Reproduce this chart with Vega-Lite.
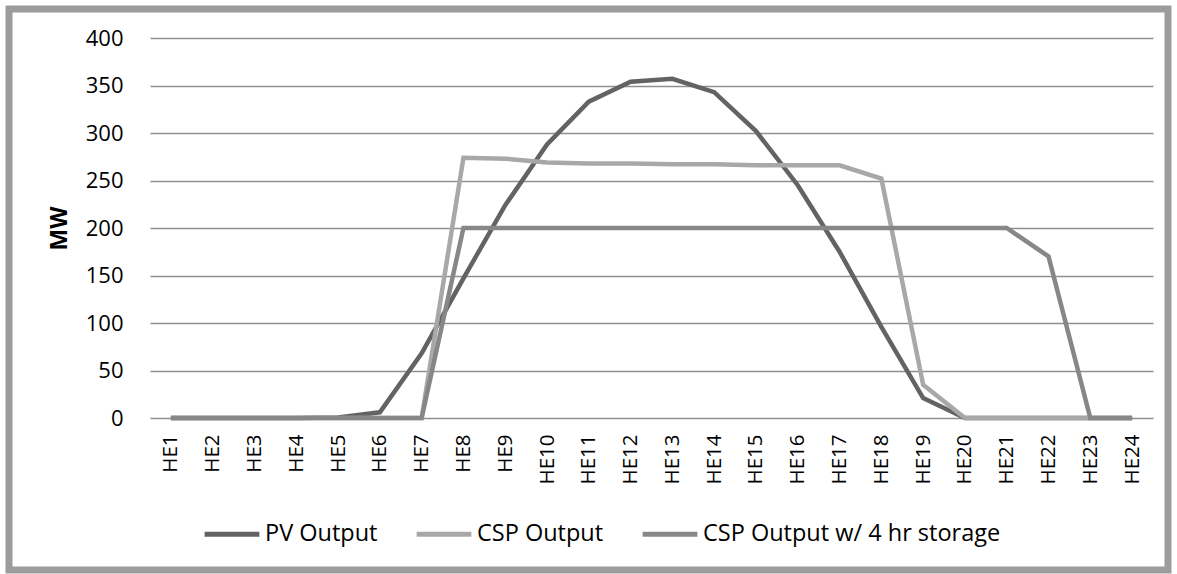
{
  "$schema": "https://vega.github.io/schema/vega-lite/v6.json",
  "width": 1159,
  "height": 561,
  "autosize": {"type": "none"},
  "padding": {"left": 9, "top": 9, "right": 9, "bottom": 4},
  "background": "white",
  "datasets": {
    "d": [
      {"hour": "HE1", "series": "PV Output", "mw": 0},
      {"hour": "HE2", "series": "PV Output", "mw": 0},
      {"hour": "HE3", "series": "PV Output", "mw": 0},
      {"hour": "HE4", "series": "PV Output", "mw": 0},
      {"hour": "HE5", "series": "PV Output", "mw": 0.5},
      {"hour": "HE6", "series": "PV Output", "mw": 6},
      {"hour": "HE7", "series": "PV Output", "mw": 68},
      {"hour": "HE8", "series": "PV Output", "mw": 147},
      {"hour": "HE9", "series": "PV Output", "mw": 224},
      {"hour": "HE10", "series": "PV Output", "mw": 288},
      {"hour": "HE11", "series": "PV Output", "mw": 333},
      {"hour": "HE12", "series": "PV Output", "mw": 354},
      {"hour": "HE13", "series": "PV Output", "mw": 357},
      {"hour": "HE14", "series": "PV Output", "mw": 343},
      {"hour": "HE15", "series": "PV Output", "mw": 302},
      {"hour": "HE16", "series": "PV Output", "mw": 245},
      {"hour": "HE17", "series": "PV Output", "mw": 175},
      {"hour": "HE18", "series": "PV Output", "mw": 96},
      {"hour": "HE19", "series": "PV Output", "mw": 21},
      {"hour": "HE20", "series": "PV Output", "mw": 0},
      {"hour": "HE21", "series": "PV Output", "mw": 0},
      {"hour": "HE22", "series": "PV Output", "mw": 0},
      {"hour": "HE23", "series": "PV Output", "mw": 0},
      {"hour": "HE24", "series": "PV Output", "mw": 0},
      {"hour": "HE1", "series": "CSP Output", "mw": 0},
      {"hour": "HE2", "series": "CSP Output", "mw": 0},
      {"hour": "HE3", "series": "CSP Output", "mw": 0},
      {"hour": "HE4", "series": "CSP Output", "mw": 0},
      {"hour": "HE5", "series": "CSP Output", "mw": 0},
      {"hour": "HE6", "series": "CSP Output", "mw": 0},
      {"hour": "HE7", "series": "CSP Output", "mw": 0},
      {"hour": "HE8", "series": "CSP Output", "mw": 274},
      {"hour": "HE9", "series": "CSP Output", "mw": 273},
      {"hour": "HE10", "series": "CSP Output", "mw": 269},
      {"hour": "HE11", "series": "CSP Output", "mw": 268},
      {"hour": "HE12", "series": "CSP Output", "mw": 268},
      {"hour": "HE13", "series": "CSP Output", "mw": 267},
      {"hour": "HE14", "series": "CSP Output", "mw": 267},
      {"hour": "HE15", "series": "CSP Output", "mw": 266},
      {"hour": "HE16", "series": "CSP Output", "mw": 266},
      {"hour": "HE17", "series": "CSP Output", "mw": 266},
      {"hour": "HE18", "series": "CSP Output", "mw": 252},
      {"hour": "HE19", "series": "CSP Output", "mw": 35},
      {"hour": "HE20", "series": "CSP Output", "mw": 0},
      {"hour": "HE21", "series": "CSP Output", "mw": 0},
      {"hour": "HE22", "series": "CSP Output", "mw": 0},
      {"hour": "HE23", "series": "CSP Output", "mw": 0},
      {"hour": "HE24", "series": "CSP Output", "mw": 0},
      {"hour": "HE1", "series": "CSP Output w/ 4 hr storage", "mw": 0},
      {"hour": "HE2", "series": "CSP Output w/ 4 hr storage", "mw": 0},
      {"hour": "HE3", "series": "CSP Output w/ 4 hr storage", "mw": 0},
      {"hour": "HE4", "series": "CSP Output w/ 4 hr storage", "mw": 0},
      {"hour": "HE5", "series": "CSP Output w/ 4 hr storage", "mw": 0},
      {"hour": "HE6", "series": "CSP Output w/ 4 hr storage", "mw": 0},
      {"hour": "HE7", "series": "CSP Output w/ 4 hr storage", "mw": 0},
      {"hour": "HE8", "series": "CSP Output w/ 4 hr storage", "mw": 200},
      {"hour": "HE9", "series": "CSP Output w/ 4 hr storage", "mw": 200},
      {"hour": "HE10", "series": "CSP Output w/ 4 hr storage", "mw": 200},
      {"hour": "HE11", "series": "CSP Output w/ 4 hr storage", "mw": 200},
      {"hour": "HE12", "series": "CSP Output w/ 4 hr storage", "mw": 200},
      {"hour": "HE13", "series": "CSP Output w/ 4 hr storage", "mw": 200},
      {"hour": "HE14", "series": "CSP Output w/ 4 hr storage", "mw": 200},
      {"hour": "HE15", "series": "CSP Output w/ 4 hr storage", "mw": 200},
      {"hour": "HE16", "series": "CSP Output w/ 4 hr storage", "mw": 200},
      {"hour": "HE17", "series": "CSP Output w/ 4 hr storage", "mw": 200},
      {"hour": "HE18", "series": "CSP Output w/ 4 hr storage", "mw": 200},
      {"hour": "HE19", "series": "CSP Output w/ 4 hr storage", "mw": 200},
      {"hour": "HE20", "series": "CSP Output w/ 4 hr storage", "mw": 200},
      {"hour": "HE21", "series": "CSP Output w/ 4 hr storage", "mw": 200},
      {"hour": "HE22", "series": "CSP Output w/ 4 hr storage", "mw": 170},
      {"hour": "HE23", "series": "CSP Output w/ 4 hr storage", "mw": 0},
      {"hour": "HE24", "series": "CSP Output w/ 4 hr storage", "mw": 0}
    ]
  },
  "data": {"name": "d"},
  "mark": {"type": "line", "strokeWidth": 4.5},
  "encoding": {
    "x": {
      "field": "hour",
      "type": "ordinal",
      "sort": null,
      "scale": {"type": "point", "padding": 0.5, "range": [141, 1144]},
      "axis": {
        "title": null,
        "offset": -152,
        "labelAngle": -90,
        "labelFont": "Open Sans",
        "labelFontSize": 20.5,
        "labelColor": "#000000",
        "labelPadding": 16,
        "ticks": false,
        "domain": false,
        "grid": false
      }
    },
    "y": {
      "field": "mw",
      "type": "quantitative",
      "scale": {"domain": [0, 400], "range": [409, 29]},
      "axis": {
        "offset": -141,
        "values": [0, 50, 100, 150, 200, 250, 300, 350, 400],
        "title": "MW",
        "titleFont": "Open Sans",
        "titleFontSize": 23,
        "titleFontWeight": "bold",
        "titleColor": "#000000",
        "titlePadding": 14,
        "labelFont": "Open Sans",
        "labelFontSize": 22,
        "labelColor": "#000000",
        "labelPadding": 27,
        "ticks": false,
        "domain": false,
        "grid": true,
        "gridColor": "#8f8f8f",
        "gridWidth": 1.6
      }
    },
    "color": {
      "field": "series",
      "type": "nominal",
      "sort": ["PV Output", "CSP Output", "CSP Output w/ 4 hr storage"],
      "scale": {
        "domain": ["PV Output", "CSP Output", "CSP Output w/ 4 hr storage"],
        "range": ["#636363", "#a8a8a8", "#878787"]
      },
      "legend": {
        "title": null,
        "orient": "none",
        "legendX": 193,
        "legendY": 495,
        "direction": "horizontal",
        "symbolType": "stroke",
        "symbolSize": 3000,
        "symbolStrokeWidth": 5,
        "labelFont": "Open Sans",
        "labelFontSize": 23.5,
        "labelColor": "#000000",
        "labelOffset": 3,
        "columnPadding": 28,
        "labelLimit": 400
      }
    }
  },
  "config": {"view": {"stroke": "#9c9c9c", "strokeWidth": 7}}
}
